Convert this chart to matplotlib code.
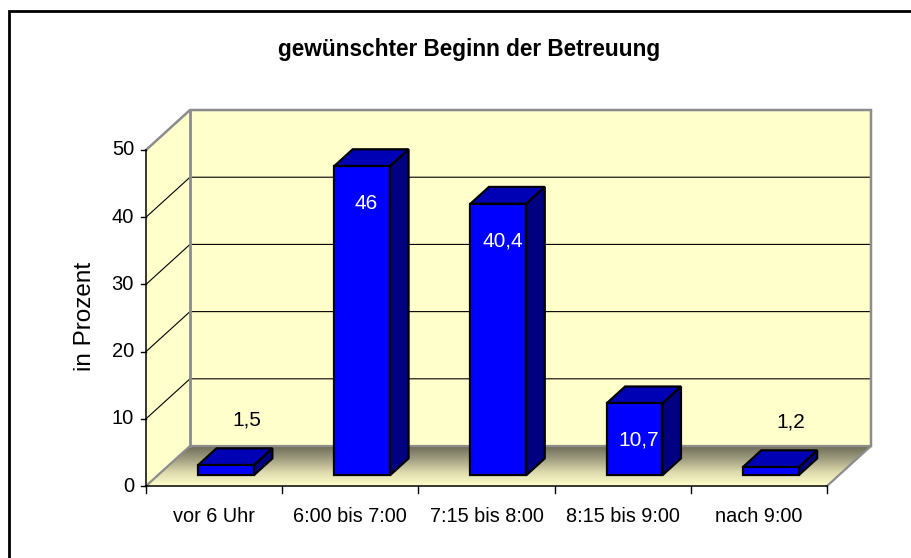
import matplotlib
matplotlib.use("Agg")
import matplotlib.pyplot as plt
import numpy as np
from matplotlib.patches import Polygon, Rectangle
from matplotlib.colors import LinearSegmentedColormap

categories = ["vor 6 Uhr", "6:00 bis 7:00", "7:15 bis 8:00", "8:15 bis 9:00", "nach 9:00"]
values = [1.5, 46.0, 40.4, 10.7, 1.2]
value_labels = ["1,5", "46", "40,4", "10,7", "1,2"]
y_ticks = [0, 10, 20, 30, 40, 50]
title = "gewünschter Beginn der Betreuung"
y_label = "in Prozent"

plt.rcParams["font.family"] = ["Liberation Sans", "DejaVu Sans"]

fig = plt.figure(figsize=(9.11, 5.58), dpi=100)
ax = fig.add_axes([0, 0, 1, 1])

n = len(categories)
ymax = y_ticks[-1]
DX, DY = 0.323, 5.95          # oblique offset of the full chart depth
wall_color = "#FFFFCC"
wall_edge = "#8C8C8C"

# walls
side_wall = Polygon([(0, 0), (DX, DY), (DX, ymax + DY), (0, ymax)],
                    closed=True, fc=wall_color, ec="none", zorder=1)
back_wall = Polygon([(DX, DY), (n + DX, DY), (n + DX, ymax + DY), (DX, ymax + DY)],
                    closed=True, fc=wall_color, ec="none", zorder=1)
ax.add_patch(side_wall)
ax.add_patch(back_wall)

# floor with a gradient from the back edge to the front edge
floor = Polygon([(0, 0), (n, 0), (n + DX, DY), (DX, DY)], closed=True,
                fc="none", ec="none", zorder=1)
ax.add_patch(floor)
floor_cmap = LinearSegmentedColormap.from_list(
    "floor", ["#FFFFCC", "#DEDBAE", "#A2A082", "#6E6C57"])
grad = np.linspace(0, 1, 200).reshape(-1, 1)
img = ax.imshow(grad, cmap=floor_cmap, origin="lower", aspect="auto",
                extent=(0, n + DX, 0, DY), zorder=1.5, interpolation="bilinear")
img.set_clip_path(floor)

# gridlines on side and back wall
for t in y_ticks[1:-1]:
    ax.plot([0, DX, n + DX], [t, t + DY, t + DY], color="black", lw=0.8, zorder=2)

# wall outlines
ax.plot([0, DX, n + DX, n + DX], [ymax, ymax + DY, ymax + DY, DY],
        color=wall_edge, lw=1.8, zorder=2.2, solid_joinstyle="miter")
ax.plot([DX, DX], [DY, ymax + DY], color=wall_edge, lw=2.0, zorder=2.2)
ax.plot([0, DX, n + DX, n], [0, DY, DY, 0], color=wall_edge, lw=1.6, zorder=2.2)

# axes lines and ticks
ax.plot([0, 0], [0, ymax], color="black", lw=1.1, zorder=3)
ax.plot([0, n], [0, 0], color="black", lw=1.1, zorder=3)
tick_dx = 5 / 136.2
for t in y_ticks:
    ax.plot([-tick_dx, 0], [t, t], color="black", lw=1.0, zorder=3)
    ax.text(-0.088, t, str(t), ha="right", va="center", fontsize=14.5, zorder=4)
for i in range(n + 1):
    ax.plot([i, i], [0, -1.0], color="black", lw=1.0, zorder=3)
for i, c in enumerate(categories):
    ax.text(i + 0.5, -4.5, c, ha="center", va="center", fontsize=14.3, zorder=4)

# bars
f0, f1 = 0.27, 0.69
bw = 0.41
ddx, ddy = (f1 - f0) * DX, (f1 - f0) * DY
for i, (v, lab) in enumerate(zip(values, value_labels)):
    x0 = i + 0.5 - bw / 2 + f0 * DX
    x1 = x0 + bw
    y0 = f0 * DY
    y1 = y0 + v
    kw = dict(ec="black", lw=1.6, joinstyle="miter", zorder=5)
    ax.add_patch(Polygon([(x1, y0), (x1 + ddx, y0 + ddy), (x1 + ddx, y1 + ddy), (x1, y1)],
                         closed=True, fc="#000080", **kw))
    ax.add_patch(Polygon([(x0, y1), (x1, y1), (x1 + ddx, y1 + ddy), (x0 + ddx, y1 + ddy)],
                         closed=True, fc="#0000B4", **kw))
    ax.add_patch(Rectangle((x0, y0), bw, v, fc="#0000FF", **kw))
    if v > 5:
        ax.text(x0 + bw / 2 + 0.03, y1 - 5.5, lab, ha="center", va="center",
                color="white", fontsize=15, zorder=6)
    else:
        ax.text(x0 + bw / 2 + 0.15, y1 + 6.7, lab, ha="center", va="center",
                color="black", fontsize=15, zorder=6)

# titles
ax.text(-0.448, 25.3, y_label, rotation=90, ha="center", va="center", fontsize=17.5)
ax.text(2.371, 64.9, title, ha="center", va="center", fontsize=16.3, fontweight="bold")

# chart frame
ax.add_patch(Rectangle((9 / 911, -0.2), 1.2, 1.2 - 11 / 558, transform=ax.transAxes,
                       fc="none", ec="black", lw=2.0, zorder=10, clip_on=False))

ax.set_xlim(-146 / 136.2, (911 - 146) / 136.2)
ax.set_ylim(-(558 - 486) / 6.72, 486 / 6.72)
ax.axis("off")

fig.savefig("out.png", dpi=100)
